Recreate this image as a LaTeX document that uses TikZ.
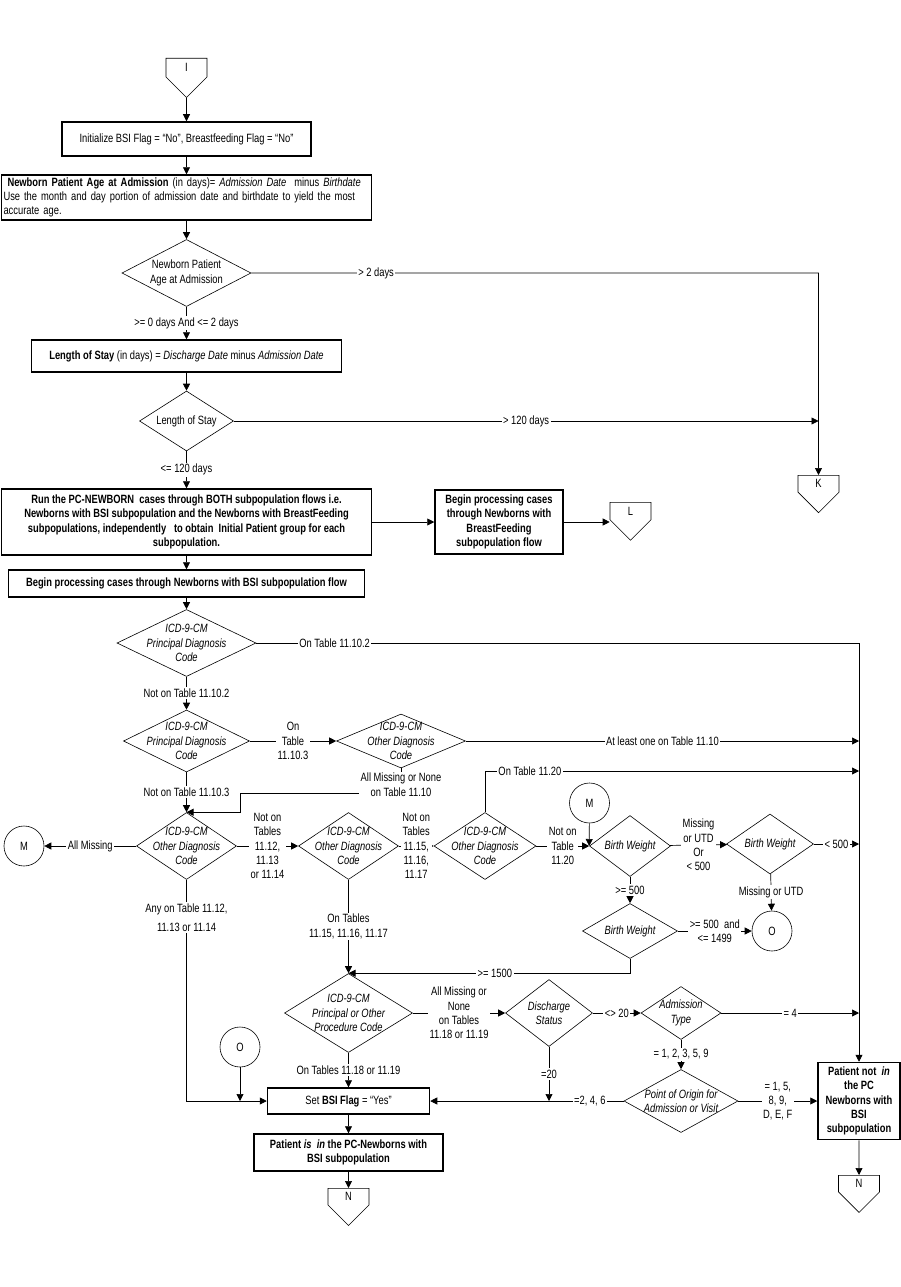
\documentclass[tikz,border=0pt]{standalone}
\usepackage{fontspec}
\setmainfont[FakeStretch=0.78]{Liberation Sans}
\usetikzlibrary{shapes.geometric,shapes.symbols,arrows.meta}
\newcommand\flowsize{\fontsize{12}{14.3}\selectfont}
\tikzset{process/.style 2 args={draw, line width=1.5pt, minimum width=#1, minimum height=#2, inner sep=2pt, align=center}}
\tikzset{decision/.style 2 args={diamond, draw, line width=0.6pt, inner sep=0pt, minimum width=#1, minimum height=#2}}
\tikzset{dtext/.style={align=center, inner sep=0pt, font=\flowsize\itshape}}
\tikzset{dup/.style={align=center, inner sep=0pt}}
\tikzset{offpage/.style={signal, signal to=south, draw, line width=0.6pt, minimum width=41, minimum height=20, inner sep=0pt, anchor=north}}
\tikzset{conn/.style={circle, draw, line width=0.6pt, minimum size=40, inner sep=0pt}}
\tikzset{arr/.style={-{Triangle[length=7pt,width=7pt]}, line width=0.7pt}}
\tikzset{lbl/.style={fill=white, inner sep=1.5pt, align=center}}
\begin{document}
\begin{tikzpicture}[x=1pt,y=-1pt,font=\flowsize]
\useasboundingbox (0,0) rectangle (901,1287);
\node[offpage] (I) at (186.5,58) {I};
\node[process={249}{34}] (init) at (186.5,139) {Initialize BSI Flag = “No”, Breastfeeding Flag = “No”};
\node[process={370}{45}, text width=366, align=left] (age) at (186.5,197.5) {\hspace{4pt}\textbf{Newborn Patient Age at Admission} (in days)= \textit{Admission Date}\ \ minus \textit{Birthdate}\\Use the month and day portion of admission date and birthdate to yield the most\\accurate age.};
\node[decision={129}{67}, label={[dup]center:{Newborn Patient\\Age at Admission}}] (dage) at (186.5,273) {};
\node[process={310}{32}] (los) at (186.5,356) {\textbf{Length of Stay} (in days) = \textit{Discharge Date} minus \textit{Admission Date}};
\node[decision={94}{60}, label={[dup]center:{Length of Stay}}] (dlos) at (186.5,421) {};
\node[offpage] (K) at (818.5,475) {K};
\node[process={370}{66}, font=\flowsize\bfseries] (run) at (186.5,522) {Run the PC-NEWBORN\ \ cases through BOTH subpopulation flows i.e.\\Newborns with BSI subpopulation and the Newborns with BreastFeeding\\subpopulations, independently\ \ \ to obtain\ \ Initial Patient group for each\\subpopulation.};
\node[process={128}{64}, font=\flowsize\bfseries] (bf) at (499,522) {Begin processing cases\\through Newborns with\\BreastFeeding\\subpopulation flow};
\node[offpage] (L) at (630.5,502) {L};
\node[process={356}{27}, font=\flowsize\bfseries] (flow) at (186.5,583.5) {Begin processing cases through Newborns with BSI subpopulation flow};
\node[decision={139}{67}, label={[dtext]center:{ICD-9-CM\\Principal Diagnosis\\Code}}] (dpdx1) at (186.5,643) {};
\node[decision={126}{62}, label={[dtext]center:{ICD-9-CM\\Principal Diagnosis\\Code}}] (dpdx2) at (186.5,741) {};
\node[decision={129}{54}, label={[dtext]center:{ICD-9-CM\\Other Diagnosis\\Code}}] (dodx1) at (401,741) {};
\node[decision={100}{67}, label={[dtext]center:{ICD-9-CM\\Other Diagnosis\\Code}}] (dodx2) at (186.5,846) {};
\node[decision={100}{67}, label={[dtext]center:{ICD-9-CM\\Other Diagnosis\\Code}}] (dodx3) at (348.5,846) {};
\node[decision={102}{67}, label={[dtext]center:{ICD-9-CM\\Other Diagnosis\\Code}}] (dodx4) at (485,846) {};
\node[conn] (Mleft) at (24,846) {M};
\node[conn] (Mtop) at (589.5,803) {M};
\node[decision={81}{61}, label={[dtext]center:{Birth Weight}}] (dbw1) at (630,846) {};
\node[decision={87}{60}, label={[dtext]center:{Birth Weight}}] (dbw2) at (770,844) {};
\node[decision={95}{55}, label={[dtext]center:{Birth Weight}}] (dbw3) at (630,931) {};
\node[conn] (Oright) at (772,931) {O};
\node[decision={128}{79}, label={[dtext]center:{ICD-9-CM\\Principal or Other\\Procedure Code}}] (dproc) at (348.5,1013) {};
\node[decision={87}{67}, label={[dtext]center:{Discharge\\Status}}] (ddis) at (549,1013) {};
\node[decision={80}{53}, label={[dtext]center:{Admission\\Type}}] (dadm) at (681,1013) {};
\node[decision={114}{63}, label={[dtext]center:{Point of Origin for\\Admission or Visit}}] (dpoo) at (681,1101) {};
\node[conn] (Oleft) at (240,1047) {O};
\node[process={162}{26}] (setbsi) at (348.5,1101) {Set \textbf{BSI Flag} = “Yes”};
\node[process={189}{37}, font=\flowsize\bfseries] (pis) at (348.5,1152.5) {Patient \textit{is}\ \ \textit{in} the PC-Newborns with\\BSI subpopulation};
\node[process={82}{77}, font=\flowsize\bfseries] (pnot) at (859,1101) {Patient not\ \ \textit{in}\\the PC\\Newborns with\\BSI\\subpopulation};
\node[offpage] (Nleft) at (348.5,1188) {N};
\node[offpage] (Nright) at (859,1175) {N};
\coordinate (c1) at (240,793);
\coordinate (c2) at (859,771);
\path[arr]
  (I) edge (init)
  (init) edge (age)
  (age) edge (dage)
  (dage) edge node[lbl]{>= 0 days And <= 2 days} (los)
  (los) edge (dlos)
  (dlos) edge node[lbl]{<= 120 days} (run)
  (run) edge (bf)
  (bf.east) edge (L.west |- bf.east)
  (run) edge (flow)
  (flow) edge (dpdx1)
  (dpdx1) edge node[lbl]{Not on Table 11.10.2} (dpdx2)
  (dpdx2) edge node[lbl]{On\\Table\\11.10.3} (dodx1)
  (dpdx2) edge node[lbl]{Not on Table 11.10.3} (dodx2)
  (dodx2) edge node[lbl]{All Missing} (Mleft)
  (dodx2) edge node[lbl]{Not on\\Tables\\11.12,\\11.13\\or 11.14} (dodx3)
  (dodx3) edge node[lbl]{Not on\\Tables\\11.15,\\11.16,\\11.17} (dodx4)
  (dodx4) edge node[lbl]{Not on\\Table\\11.20} (dbw1)
  (Mtop) edge (dbw1.west)
  (dbw1) edge node[lbl]{Missing\\or UTD\\Or\\< 500} (dbw2)
  (dbw2) edge node[lbl]{Missing or UTD} (Oright)
  (dbw1) edge node[lbl]{>= 500} (dbw3)
  (dbw3) edge node[lbl]{>= 500\ \ and\\<= 1499} (Oright)
  (dodx3) edge node[lbl]{On Tables\\11.15, 11.16, 11.17} (dproc)
  (dproc) edge node[lbl]{All Missing or\\None\\on Tables\\11.18 or 11.19} (ddis)
  (ddis) edge node[lbl]{<> 20} (dadm)
  (dadm) edge node[lbl]{= 1, 2, 3, 5, 9} (dpoo)
  (dpoo) edge node[lbl]{= 1, 5,\\8, 9,\\D, E, F} (pnot)
  (dproc) edge node[lbl]{On Tables 11.18 or 11.19} (setbsi)
  (setbsi) edge (pis)
  (pis) edge (Nleft)
  (pnot) edge (Nright);
\draw[arr] (dage.east) -- node[lbl,pos=0.22]{> 2 days} (K.north |- dage.east) -- (K);
\draw[arr] (dlos.east) -- node[lbl]{> 120 days} (K.north |- dlos.east);
\draw[arr] (dpdx1.east) -- node[lbl,pos=0.13]{On Table 11.10.2} (pnot.north |- dpdx1.east) -- (pnot);
\draw[arr] (dodx1.east) -- node[lbl]{At least one on Table 11.10} (pnot.north |- dodx1.east);
\draw[arr] (dodx1.south) |- node[lbl,pos=0.33]{All Missing or None\\on Table 11.10} (c1) |- (dodx2.north);
\draw[arr] (dodx4.north) |- node[lbl,pos=0.56]{On Table 11.20} (c2);
\draw[arr] (dbw2.east) -- node[lbl]{< 500} (pnot.north |- dbw2.east);
\draw[arr] (dbw3.south) |- node[lbl,pos=0.74]{>= 1500} (dproc.north);
\draw[arr] (dadm.east) -- node[lbl]{= 4} (pnot.north |- dadm.east);
\draw[arr] (dpoo.west) -- node[lbl,pos=0.175]{=2, 4, 6} (setbsi.east);
\draw[arr] (ddis.south) -- node[lbl]{=20} (ddis.south |- setbsi.east);
\draw[arr] (Oleft) -- (Oleft |- setbsi.west);
\draw[arr] (dodx2.south) |- node[lbl,pos=0.086]{Any on Table 11.12,\\[5pt]11.13 or 11.14} (setbsi.west);
\end{tikzpicture}
\end{document}
